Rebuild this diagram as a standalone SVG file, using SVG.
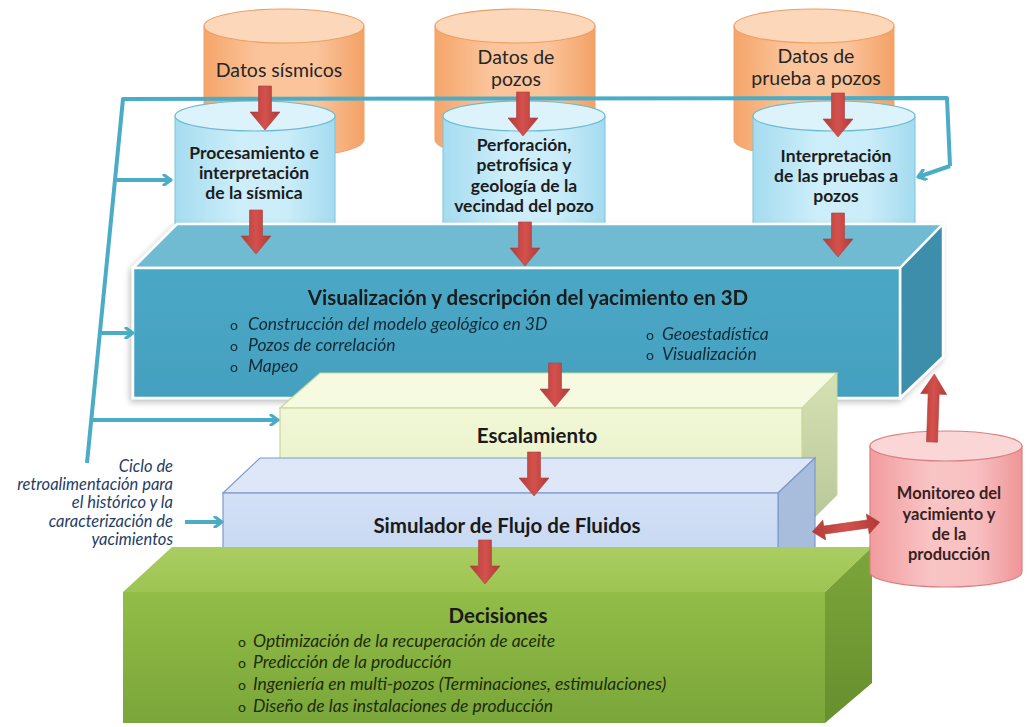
<svg xmlns="http://www.w3.org/2000/svg" width="1034" height="727" viewBox="0 0 1034 727">
  <defs>
    <linearGradient id="gOrange" x1="0" y1="0" x2="1" y2="0">
      <stop offset="0" stop-color="#F5A56A"/>
      <stop offset="0.35" stop-color="#FBC59C"/>
      <stop offset="0.7" stop-color="#FBC49B"/>
      <stop offset="1" stop-color="#F3A166"/>
    </linearGradient>
    <linearGradient id="gCyan" x1="0" y1="0" x2="1" y2="0">
      <stop offset="0" stop-color="#A5DCF0"/>
      <stop offset="0.4" stop-color="#CDEEFA"/>
      <stop offset="0.7" stop-color="#CBEDF9"/>
      <stop offset="1" stop-color="#A3DBEF"/>
    </linearGradient>
    <linearGradient id="gPink" x1="0" y1="0" x2="1" y2="0">
      <stop offset="0" stop-color="#F29C9E"/>
      <stop offset="0.4" stop-color="#F9C4C5"/>
      <stop offset="0.7" stop-color="#F8C0C1"/>
      <stop offset="1" stop-color="#EF9597"/>
    </linearGradient>
    <linearGradient id="gRed" x1="0" y1="0" x2="1" y2="0">
      <stop offset="0" stop-color="#B23C38"/>
      <stop offset="0.5" stop-color="#D4514C"/>
      <stop offset="1" stop-color="#B03A36"/>
    </linearGradient>
    <linearGradient id="gRedV" x1="0" y1="0" x2="0" y2="1">
      <stop offset="0" stop-color="#B23C38"/>
      <stop offset="0.5" stop-color="#D4514C"/>
      <stop offset="1" stop-color="#B03A36"/>
    </linearGradient>
    <linearGradient id="gBlueFront" x1="0" y1="0" x2="0" y2="1">
      <stop offset="0" stop-color="#4AA8C6"/>
      <stop offset="1" stop-color="#44A0BE"/>
    </linearGradient>
    <linearGradient id="gScaleFront" x1="0" y1="0" x2="0" y2="1">
      <stop offset="0" stop-color="#F1F7D6"/>
      <stop offset="1" stop-color="#E4EFC0"/>
    </linearGradient>
    <linearGradient id="gScaleSide" x1="0" y1="0" x2="0" y2="1">
      <stop offset="0" stop-color="#D6E1B4"/>
      <stop offset="1" stop-color="#B8C697"/>
    </linearGradient>
    <linearGradient id="gSimFront" x1="0" y1="0" x2="0" y2="1">
      <stop offset="0" stop-color="#D3E1F6"/>
      <stop offset="1" stop-color="#C3D5F0"/>
    </linearGradient>
    <linearGradient id="gDecFront" x1="0" y1="0" x2="0" y2="1">
      <stop offset="0" stop-color="#92BD47"/>
      <stop offset="1" stop-color="#7AA63A"/>
    </linearGradient>
    <linearGradient id="gDecTop" x1="0" y1="0" x2="0" y2="1">
      <stop offset="0" stop-color="#AACD62"/>
      <stop offset="1" stop-color="#9DC552"/>
    </linearGradient>
    <linearGradient id="gDecSide" x1="0" y1="0" x2="0" y2="1">
      <stop offset="0" stop-color="#7CA63A"/>
      <stop offset="1" stop-color="#668F2E"/>
    </linearGradient>
    <filter id="shadow" x="-10%" y="-10%" width="120%" height="130%">
      <feDropShadow dx="-2" dy="3" stdDeviation="3" flood-color="#000" flood-opacity="0.25"/>
    </filter>
    <!-- block arrow pointing down, 44 px long, origin at the tail centre -->
    <path id="downArrow" d="M-6.5,0 H6.5 V26 H15 L0,44 L-15,26 H-6.5 Z"/>
    <!-- open chevron head for the feedback lines -->
    <marker id="chev" viewBox="0 0 12 12" refX="9" refY="6" markerWidth="12" markerHeight="12" markerUnits="userSpaceOnUse" orient="auto">
      <path d="M2,1 L9,6 L2,11" fill="none" stroke="#4BACC6" stroke-width="3.2" stroke-linecap="round" stroke-linejoin="round"/>
    </marker>
    <style>
      .orangeBody { fill: url(#gOrange); stroke: #F0A36A; stroke-width: 1; }
      .orangeTop { fill: #FDD7BA; stroke: #EE9E62; stroke-width: 1.2; }
      .cyanBody { fill: url(#gCyan); stroke: #7CC3DA; stroke-width: 1; }
      .cyanTop { fill: #DCF3FB; stroke: #6FBAD3; stroke-width: 1.2; }
      .pinkBody { fill: url(#gPink); stroke: #D9807F; stroke-width: 1.2; }
      .pinkTop { fill: #FBD6D7; stroke: #D9807F; stroke-width: 1.2; }
      .redArrow { fill: url(#gRed); stroke: #A9403C; stroke-width: 0.6; }
      .feedback { fill: none; stroke: #4BACC6; stroke-width: 4; stroke-linejoin: round; }
      .feedArrow { fill: none; stroke: #4BACC6; stroke-width: 4; marker-end: url(#chev); }
      .dataText { font-family: Lato, "Open Sans", sans-serif; font-size: 19.5px; fill: #262626; text-anchor: middle; }
      .procText { font-family: Lato, "Open Sans", sans-serif; font-weight: bold; font-size: 17.5px; fill: #1C1C1C; text-anchor: middle; }
      .title { font-family: Lato, "Open Sans", sans-serif; font-weight: bold; font-size: 20.5px; fill: #1A1A1A; text-anchor: middle; }
      .item { font-family: Lato, "Open Sans", sans-serif; font-style: italic; font-size: 17.5px; }
      .bullet { font-family: Lato, "Open Sans", sans-serif; font-size: 14px; }
      .blueInk { fill: #132A36; }
      .greenInk { fill: #1F2C0C; }
      .note { font-family: Lato, "Open Sans", sans-serif; font-style: italic; font-size: 16.5px; fill: #1F3D66; text-anchor: end; }
      .monText { font-family: Lato, "Open Sans", sans-serif; font-weight: bold; font-size: 16.5px; fill: #3A1F1F; text-anchor: middle; }
    </style>
  </defs>

  <rect width="1034" height="727" fill="#FFFFFF"/>

  <!-- source data stores -->
  <g id="datos-sismicos">
    <path class="orangeBody" d="M204,26 V140 A80,17 0 0 0 364,140 V26 Z"/>
    <ellipse class="orangeTop" cx="284" cy="26" rx="80" ry="17"/>
    <text class="dataText" x="279" y="77">Datos sísmicos</text>
  </g>
  <g id="datos-pozos">
    <path class="orangeBody" d="M435,26 V140 A80,17 0 0 0 595,140 V26 Z"/>
    <ellipse class="orangeTop" cx="515" cy="26" rx="80" ry="17"/>
    <text class="dataText" x="516" y="64">Datos de</text>
    <text class="dataText" x="516" y="86">pozos</text>
  </g>
  <g id="datos-prueba">
    <path class="orangeBody" d="M734,26 V140 A80,17 0 0 0 894,140 V26 Z"/>
    <ellipse class="orangeTop" cx="814" cy="26" rx="80" ry="17"/>
    <text class="dataText" x="816" y="63">Datos de</text>
    <text class="dataText" x="816" y="85">prueba a pozos</text>
  </g>

  <!-- processing stores -->
  <g id="procesamiento">
    <path class="cyanBody" d="M175,116 V232 H335 V116 Z"/>
    <ellipse class="cyanTop" cx="255" cy="116" rx="80" ry="15"/>
    <text class="procText" x="254" y="159">Procesamiento e</text>
    <text class="procText" x="254" y="179">interpretación</text>
    <text class="procText" x="254" y="199">de la sísmica</text>
  </g>
  <g id="perforacion">
    <path class="cyanBody" d="M443,116 V232 H605 V116 Z"/>
    <ellipse class="cyanTop" cx="524" cy="116" rx="81" ry="15"/>
    <text class="procText" x="524" y="151">Perforación,</text>
    <text class="procText" x="524" y="171">petrofísica y</text>
    <text class="procText" x="524" y="192">geología de la</text>
    <text class="procText" x="524" y="212">vecindad del pozo</text>
  </g>
  <g id="interpretacion-pruebas">
    <path class="cyanBody" d="M753,116 V232 H915 V116 Z"/>
    <ellipse class="cyanTop" cx="834" cy="116" rx="81" ry="15"/>
    <text class="procText" x="836" y="162">Interpretación</text>
    <text class="procText" x="836" y="182">de las pruebas a</text>
    <text class="procText" x="836" y="202">pozos</text>
  </g>

  <!-- 3D reservoir visualisation block -->
  <g id="visualizacion" filter="url(#shadow)">
    <path d="M133,268 L177,224 L943,224 L900,268 Z" fill="#70BAD2" stroke="#FFFFFF" stroke-width="2.5" stroke-linejoin="round"/>
    <path d="M900,268 L943,224 L943,357 L900,398 Z" fill="#3C8EAA" stroke="#FFFFFF" stroke-width="2.5" stroke-linejoin="round"/>
    <rect x="133" y="268" width="767" height="130" fill="url(#gBlueFront)" stroke="#FFFFFF" stroke-width="2.5"/>
    <text class="title" x="528" y="305">Visualización y descripción del yacimiento en 3D</text>
    <text class="bullet blueInk" x="230" y="330">o</text>
    <text class="item blueInk" x="248" y="330">Construcción del modelo geológico en 3D</text>
    <text class="bullet blueInk" x="230" y="351">o</text>
    <text class="item blueInk" x="248" y="351">Pozos de correlación</text>
    <text class="bullet blueInk" x="230" y="372">o</text>
    <text class="item blueInk" x="248" y="372">Mapeo</text>
    <text class="bullet blueInk" x="646" y="340">o</text>
    <text class="item blueInk" x="662" y="340">Geoestadística</text>
    <text class="bullet blueInk" x="646" y="360">o</text>
    <text class="item blueInk" x="662" y="360">Visualización</text>
  </g>

  <!-- upscaling block -->
  <g id="escalamiento">
    <path d="M280,408 L320,373 L837,373 L802,408 Z" fill="#F5FAE1" stroke="#C8D898" stroke-width="1.2"/>
    <path d="M802,408 L837,373 L837,495 L802,530 Z" fill="url(#gScaleSide)" stroke="#C8D898" stroke-width="1"/>
    <rect x="280" y="408" width="522" height="122" fill="url(#gScaleFront)" stroke="#C8D898" stroke-width="1.2"/>
    <text class="title" x="537" y="443">Escalamiento</text>
  </g>

  <!-- flow simulator block -->
  <g id="simulador">
    <path d="M223,493 L260,458 L815,458 L778,493 Z" fill="#DDE7F7" stroke="#7C9ACB" stroke-width="1.2"/>
    <path d="M778,493 L815,458 L815,560 L778,580 Z" fill="#A8BCDC" stroke="#7C9ACB" stroke-width="1.2"/>
    <rect x="223" y="493" width="555" height="80" fill="url(#gSimFront)" stroke="#7C9ACB" stroke-width="1.2"/>
    <text class="title" x="507" y="533">Simulador de Flujo de Fluidos</text>
  </g>

  <!-- decisions block -->
  <g id="decisiones">
    <path d="M123,592 L172,547 L872,547 L825,592 Z" fill="url(#gDecTop)"/>
    <path d="M825,592 L872,547 L872,683 L825,723 Z" fill="url(#gDecSide)"/>
    <rect x="123" y="592" width="702" height="131" fill="url(#gDecFront)"/>
    <text class="title" x="498" y="623">Decisiones</text>
    <text class="bullet greenInk" x="238" y="647">o</text>
    <text class="item greenInk" x="253" y="647">Optimización de la recuperación de aceite</text>
    <text class="bullet greenInk" x="238" y="668">o</text>
    <text class="item greenInk" x="253" y="668">Predicción de la producción</text>
    <text class="bullet greenInk" x="238" y="690">o</text>
    <text class="item greenInk" x="253" y="690">Ingeniería en multi-pozos (Terminaciones, estimulaciones)</text>
    <text class="bullet greenInk" x="238" y="712">o</text>
    <text class="item greenInk" x="253" y="712">Diseño de las instalaciones de producción</text>
  </g>

  <!-- monitoring store -->
  <g id="monitoreo">
    <path class="pinkBody" d="M870,446 V572 A76,15 0 0 0 1022,572 V446 Z"/>
    <ellipse class="pinkTop" cx="946" cy="446" rx="76" ry="15"/>
    <text class="monText" x="949" y="499">Monitoreo del</text>
    <text class="monText" x="949" y="520">yacimiento y</text>
    <text class="monText" x="949" y="540">de la</text>
    <text class="monText" x="949" y="560">producción</text>
  </g>

  <!-- note beside the feedback loop -->
  <g id="nota-ciclo">
    <text class="note" x="173" y="472">Ciclo de</text>
    <text class="note" x="173" y="490">retroalimentación para</text>
    <text class="note" x="173" y="508">el histórico y la</text>
    <text class="note" x="173" y="527">caracterización de</text>
    <text class="note" x="173" y="545">yacimientos</text>
  </g>

  <!-- connectors -->
  <g id="connectors">
    <!-- feedback loop -->
    <path class="feedback" d="M87,463 L123,99 L947,98 L950,166"/>
    <path class="feedArrow" d="M950,166 L918,177"/>
    <path class="feedArrow" d="M115,180 L171,180"/>
    <path class="feedArrow" d="M100,333 L133,333"/>
    <path class="feedArrow" d="M91,420 L278,420"/>
    <path class="feedArrow" d="M185,522 L222,522"/>

    <!-- data flow arrows -->
    <use href="#downArrow" class="redArrow" transform="translate(265,86)"/>
    <use href="#downArrow" class="redArrow" transform="translate(523,92)"/>
    <use href="#downArrow" class="redArrow" transform="translate(838,93)"/>
    <use href="#downArrow" class="redArrow" transform="translate(256,210)"/>
    <use href="#downArrow" class="redArrow" transform="translate(525,222)"/>
    <use href="#downArrow" class="redArrow" transform="translate(838,213)"/>
    <use href="#downArrow" class="redArrow" transform="translate(555,363)"/>
    <use href="#downArrow" class="redArrow" transform="translate(534,452)"/>
    <use href="#downArrow" class="redArrow" transform="translate(485,540)"/>
    <!-- monitoring feeds the 3D model -->
    <path class="redArrow" transform="translate(932,442) rotate(182)" d="M-5.5,0 H5.5 V48 H13 L0,68 L-13,48 H-5.5 Z"/>
    <!-- two-way exchange between simulator and monitoring -->
    <path class="redArrow" fill="url(#gRedV)" transform="translate(846,527) rotate(-8)" d="M-34,0 L-22,-10 L-22,-4 L22,-4 L22,-10 L34,0 L22,10 L22,4 L-22,4 L-22,10 Z"/>
  </g>
</svg>
